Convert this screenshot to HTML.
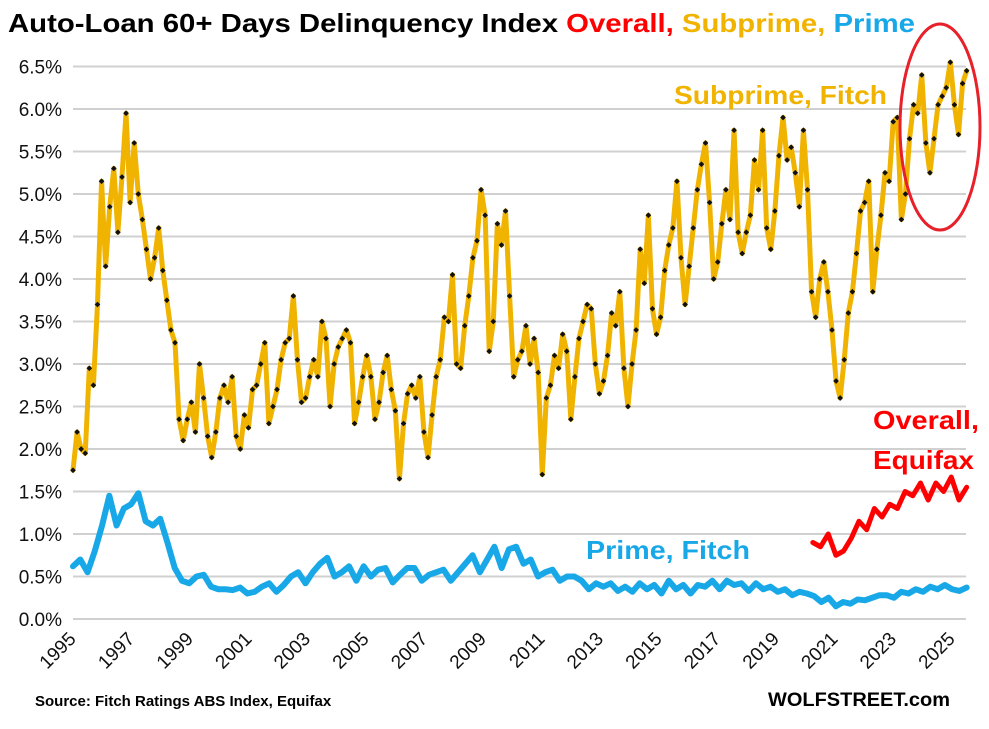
<!DOCTYPE html>
<html><head><meta charset="utf-8"><style>
body{margin:0;background:#fff;}
svg text{font-family:"Liberation Sans",sans-serif;}
</style></head><body>
<svg width="989" height="724" viewBox="0 0 989 724">
<text x="8" y="32" font-size="26" font-weight="bold" textLength="907" lengthAdjust="spacingAndGlyphs"><tspan fill="#000">Auto-Loan 60+ Days Delinquency Index </tspan><tspan fill="#ff0000">Overall, </tspan><tspan fill="#f0b400">Subprime, </tspan><tspan fill="#18a8e8">Prime</tspan></text>
<g id="grid"></g><g id="ylabels"></g><g id="xlabels"></g><g id="series"></g>
<ellipse cx="940" cy="127" rx="40" ry="103" fill="none" stroke="#e8202a" stroke-width="3"/>
<text x="674" y="104" font-size="26" font-weight="bold" fill="#f0b400" textLength="213" lengthAdjust="spacingAndGlyphs">Subprime, Fitch</text>
<text x="873" y="429" font-size="26" font-weight="bold" fill="#ff0000" textLength="106" lengthAdjust="spacingAndGlyphs">Overall,</text>
<text x="873" y="469" font-size="26" font-weight="bold" fill="#ff0000" textLength="101" lengthAdjust="spacingAndGlyphs">Equifax</text>
<text x="586" y="559" font-size="26" font-weight="bold" fill="#18a8e8" textLength="164" lengthAdjust="spacingAndGlyphs">Prime, Fitch</text>
<text x="35" y="706" font-size="15" font-weight="bold">Source: Fitch Ratings ABS Index, Equifax</text>
<text x="768" y="706" font-size="19" font-weight="bold" textLength="182" lengthAdjust="spacingAndGlyphs">WOLFSTREET.com</text>
</svg>
<script>
const yTicks=[0,0.5,1,1.5,2,2.5,3,3.5,4,4.5,5,5.5,6,6.5];
const yTickLabels=["0.0%","0.5%","1.0%","1.5%","2.0%","2.5%","3.0%","3.5%","4.0%","4.5%","5.0%","5.5%","6.0%","6.5%"];
const xTicks=[1995,1997,1999,2001,2003,2005,2007,2009,2011,2013,2015,2017,2019,2021,2023,2025];
const subprimeStart=1995.0, subprimeEnd=2025.5;
const subprime=[1.75,2.2,2.0,1.95,2.95,2.75,
3.7,5.15,4.15,4.85,5.3,4.55,5.2,
5.95,4.9,5.6,5.0,4.7,4.35,4.0,4.25,4.6,
4.1,3.75,3.4,3.25,2.35,2.1,2.35,
2.55,2.2,3.0,2.6,2.15,1.9,
2.2,2.6,2.75,2.55,2.85,2.15,2.0,2.4,
2.25,2.7,2.75,3.0,3.25,2.3,2.5,
2.7,3.05,3.25,3.3,3.8,3.05,2.55,
2.6,2.85,3.05,2.85,3.5,3.3,2.5,3.0,
3.2,3.3,3.4,3.25,2.3,2.55,2.85,3.1,
2.85,2.35,2.55,2.9,3.1,2.7,2.45,1.65,
2.3,2.65,2.75,2.6,2.85,2.2,1.9,2.4,
2.85,3.05,3.55,3.5,4.05,3.0,2.95,3.45,
3.8,4.25,4.45,5.05,4.75,3.15,3.5,
4.65,4.4,4.8,3.8,2.85,3.05,
3.15,3.45,3.0,3.3,2.9,1.7,
2.6,2.75,3.1,2.95,3.35,3.15,2.35,
2.85,3.3,3.5,3.7,3.65,3.0,2.65,
2.8,3.1,3.6,3.45,3.85,2.95,2.5,
3.0,3.4,4.35,3.95,4.75,3.65,3.35,
3.55,4.1,4.4,4.6,5.15,4.25,3.7,
4.15,4.6,5.05,5.35,5.6,4.9,4.0,
4.2,4.65,5.05,4.7,5.75,4.55,4.3,
4.55,4.75,5.4,5.05,5.75,4.6,4.35,
4.8,5.45,5.9,5.4,5.55,5.25,4.85,
5.75,5.05,3.85,3.55,4.0,4.2,3.85,
3.4,2.8,2.6,3.05,3.6,3.85,
4.3,4.8,4.9,5.15,3.85,4.35,4.75,
5.25,5.15,5.85,5.9,4.7,5.0,5.65,
6.05,5.95,6.4,5.6,5.25,5.65,6.05,6.15,
6.25,6.55,6.05,5.7,6.3,6.45];
const primeStart=1995.0, primeEnd=2025.5;
const prime=[0.62,0.7,0.55,0.8,1.1,1.45,1.1,1.3,1.35,1.48,1.15,1.1,1.18,0.9,0.6,0.45,0.42,0.5,0.52,0.38,0.35,
0.35,0.34,0.37,0.3,0.32,0.38,0.42,0.32,0.4,0.5,0.55,0.42,0.55,0.65,0.72,0.5,0.55,0.62,0.45,0.62,
0.5,0.58,0.6,0.43,0.52,0.6,0.6,0.45,0.52,0.55,0.58,0.45,0.55,0.65,0.75,0.55,0.7,0.85,0.6,0.82,
0.85,0.65,0.7,0.5,0.55,0.58,0.45,0.5,0.5,0.45,0.35,0.42,0.38,0.42,0.33,0.38,0.32,0.42,0.35,0.4,
0.3,0.45,0.35,0.4,0.3,0.4,0.38,0.45,0.35,0.45,0.4,0.42,0.33,0.42,0.35,0.38,0.32,0.35,0.28,0.32,
0.3,0.27,0.2,0.25,0.15,0.2,0.18,0.23,0.22,0.25,0.28,0.28,0.25,0.32,0.3,0.35,0.32,0.38,0.35,0.4,0.35,0.33,0.37];
const overallStart=2020.25, overallEnd=2025.5;
const overall=[0.9,0.85,1.0,0.75,0.8,0.95,1.15,1.05,1.3,1.2,1.35,1.3,1.5,1.45,1.6,1.4,1.6,1.5,1.67,1.4,1.55];

const NS="http://www.w3.org/2000/svg";
const X=yr=>73+(yr-1995)*29.3;
const Y=v=>619-v*85.0;
function mk(tag,attrs,parent){const e=document.createElementNS(NS,tag);for(const k in attrs)e.setAttribute(k,attrs[k]);parent.appendChild(e);return e;}
const grid=document.getElementById('grid'),yl=document.getElementById('ylabels'),xl=document.getElementById('xlabels'),ser=document.getElementById('series');
yTicks.forEach((t,i)=>{
 const l=mk('line',{x1:73,x2:966,y1:Y(t),y2:Y(t),stroke:'#d0d0d0','stroke-width':2},grid);
 
 
 const tx=mk('text',{x:62,y:Y(t)+7,'font-size':19,'text-anchor':'end',fill:'#111'},yl);
 tx.textContent=yTickLabels[i];
 
 
});
xTicks.forEach(t=>{
 const x=X(t)+4,y=640;
 const tx=mk('text',{x:x,y:y,'font-size':19,'text-anchor':'end',fill:'#111',transform:`rotate(-45 ${x} ${y})`},xl);
 tx.textContent=t;
 
 
});
function pts(arr,s,e){return arr.map((v,i)=>[X(s+(e-s)*i/(arr.length-1)),Y(v)]);}
function line(arr,s,e,color,w,name){
 const p=pts(arr,s,e);
 const pl=mk('polyline',{points:p.map(q=>q.join(',')).join(' '),fill:'none',stroke:color,'stroke-width':w,'stroke-linejoin':'round','stroke-linecap':'round'},ser);
 
 
 return p;
}
line(prime,primeStart,primeEnd,'#18a8e8',6,'prime-line');
line(overall,overallStart,overallEnd,'#ff0000',5,'overall-line');
const sp=line(subprime,subprimeStart,subprimeEnd,'#f0b400',5,'subprime-line');
sp.forEach(q=>{
 const r=mk('rect',{x:q[0]-2,y:q[1]-2,width:4,height:4,fill:'#111',transform:`rotate(45 ${q[0]} ${q[1]})`},ser);
 
 
});
</script>
</body></html>
